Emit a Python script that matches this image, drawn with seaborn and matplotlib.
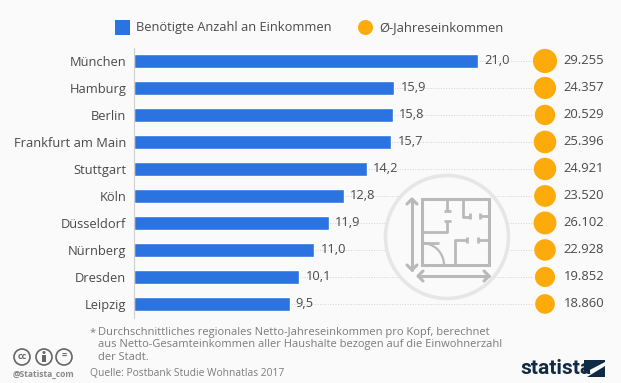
import matplotlib
matplotlib.use("Agg")
import matplotlib.pyplot as plt
from matplotlib.patches import Circle, Arc, Rectangle, Polygon
import pandas as pd
import seaborn as sns

# values
cities = ["München", "Hamburg", "Berlin", "Frankfurt am Main", "Stuttgart",
          "Köln", "Düsseldorf", "Nürnberg", "Dresden", "Leipzig"]
anzahl = [21.0, 15.9, 15.8, 15.7, 14.2, 12.8, 11.9, 11.0, 10.1, 9.5]
einkommen = [29255, 24357, 20529, 25396, 24921, 23520, 26102, 22928, 19852, 18860]

W, H = 621, 383
BG = "#fafafa"
BLUE = "#2a73e0"
ORANGE = "#fdab0b"
TEXT = "#4a4a4a"
GREY = "#7b7b7b"
ICON = "#b9b9b9"

sns.set_theme(style="white")
plt.rcParams["font.family"] = ["Open Sans", "DejaVu Sans"]

df = pd.DataFrame({"city": cities, "anzahl": anzahl, "einkommen": einkommen, "pos": 0})

fig = plt.figure(figsize=(W / 100, H / 100), dpi=100, facecolor=BG)


def px_axes(left, top, right, bottom):
    return fig.add_axes([left / W, 1 - bottom / H, (right - left) / W, (bottom - top) / H])


# bars
ax = px_axes(134, 48, 533, 318)
ax.set_facecolor("none")
sns.barplot(data=df, x="anzahl", y="city", color=BLUE, saturation=1, width=0.52, ax=ax)
ax.set_xlim(0, 399 / 16.38)
ax.set_ylim(9.5 + 0.02, -0.5 + 0.02)
ax.set_xlabel("")
ax.set_ylabel("")
ax.set_xticks([])
ax.tick_params(axis="y", length=0, pad=5.5, labelsize=9.3, labelcolor=TEXT)
ax.grid(axis="y", linestyle=":", linewidth=0.7, color="#d2d2d2")
ax.set_axisbelow(True)
sns.despine(ax=ax, top=True, right=True, bottom=True)
ax.spines["left"].set_color("#cfcfcf")
ax.spines["left"].set_linewidth(0.8)
ax.bar_label(ax.containers[0], labels=[f"{v:.1f}".replace(".", ",") for v in anzahl],
             padding=4.5, fontsize=9.3, color=TEXT)

# overlay in pixel coordinates, for the icon, legend and footer
ov = px_axes(0, 0, W, H)
ov.set_xlim(0, W)
ov.set_ylim(H, 0)
ov.axis("off")
ov.set_facecolor("none")

# legend
ov.add_patch(Rectangle((115, 20), 15, 15, color=BLUE, lw=0))
ov.text(136, 27.5, "Benötigte Anzahl an Einkommen", fontsize=9.3, color=TEXT, va="center")
ov.add_patch(Circle((365.5, 27.5), 7.5, color=ORANGE, lw=0))
ov.text(379, 27.5, "Ø-Jahreseinkommen", fontsize=9.35, color=TEXT, va="center")

# floor plan icon
ov.add_patch(Circle((447, 237), 61.5, facecolor=BG, edgecolor="#e6e6e6", lw=2.6))
ov.add_patch(Rectangle((422, 199), 67, 66, fill=False, edgecolor=ICON, lw=2.2))
walls = [
    [(447, 199), (447, 211)], [(444, 211), (451, 211)],
    [(444, 221), (451, 221)], [(447, 221), (447, 232), (422, 232)],
    [(463, 199), (463, 217), (470, 217)], [(470, 213), (470, 219)],
    [(489, 216), (480, 216)], [(480, 213), (480, 219)],
    [(455, 265), (455, 240), (467, 240)], [(467, 237), (467, 243)],
    [(489, 240), (478, 240)], [(478, 237), (478, 243)],
    [(422, 243), (439, 243)],
]
for wall in walls:
    ov.plot(*zip(*wall), color=ICON, lw=2.0, solid_capstyle="butt")
ov.add_patch(Arc((422, 265), 44, 44, theta1=270, theta2=360, color=ICON, lw=1.6))
ov.plot([412, 412], [199, 270], color=ICON, lw=2.2)
ov.plot([407, 412, 417], [204, 199, 204], color=ICON, lw=2.2)
ov.plot([407, 412, 417], [265, 270, 265], color=ICON, lw=2.2)
ov.plot([418, 489], [276, 276], color=ICON, lw=2.2)
ov.plot([423, 418, 423], [271, 276, 281], color=ICON, lw=2.2)
ov.plot([484, 489, 484], [271, 276, 281], color=ICON, lw=2.2)

# income bubbles, area follows the income
bx = px_axes(533, 48, 557, 318)
bx.set_facecolor("none")
sns.scatterplot(data=df, x="pos", y="city", size="einkommen", sizes=(200, 303),
                size_norm=(18860, 29255), color=ORANGE, linewidth=0, legend=False, ax=bx)
bx.set_xlim(-0.5, 0.5)
bx.set_ylim(9.5 + 0.02, -0.5 + 0.02)
bx.axis("off")
for i, v in enumerate(einkommen):
    bx.annotate(f"{v:,}".replace(",", "."), (0.5, i), xytext=(4.8, 0), textcoords="offset points",
                va="center", fontsize=9.4, color=TEXT, annotation_clip=False)

# footnote and source
ov.text(90, 333, "*", fontsize=8, color=GREY, va="center")
foot = ["Durchschnittliches regionales Netto-Jahreseinkommen pro Kopf, berechnet",
        "aus Netto-Gesamteinkommen aller Haushalte bezogen auf die Einwohnerzahl",
        "der Stadt."]
for y, line in zip([332, 344, 357], foot):
    ov.text(98, y, line, fontsize=8.05, color=GREY, va="center")
ov.text(90, 373, "Quelle: Postbank Studie Wohnatlas 2017", fontsize=7.4, color=GREY, va="center")

# cc badges
for cx, label in zip([22, 44, 64], ["cc", "", "="]):
    ov.add_patch(Circle((cx, 357), 8, fill=False, edgecolor="#666666", lw=1.2))
    if label:
        ov.text(cx, 356.5, label, fontsize=6.5, fontweight="bold",
                color="#666666", ha="center", va="center")
ov.add_patch(Circle((44, 352.5), 1.5, color="#666666", lw=0))
ov.add_patch(Rectangle((42, 355), 4, 7, color="#666666", lw=0))
ov.text(43, 374, "@Statista_com", fontsize=6.1, fontweight="bold", color="#8a8a8a",
        ha="center", va="center")

# statista logo
ov.text(520, 369, "statista", fontsize=15, fontweight="bold", color="#0f2b46", va="center",
        family=["Roboto", "DejaVu Sans"])
ov.add_patch(Rectangle((584, 360), 21, 17, color="#0f2b46", lw=0))
ov.add_patch(Polygon([(584, 373), (605, 362), (605, 366), (587, 377), (584, 377)], color=BG, lw=0))

fig.savefig("out.png", dpi=100, facecolor=BG)
